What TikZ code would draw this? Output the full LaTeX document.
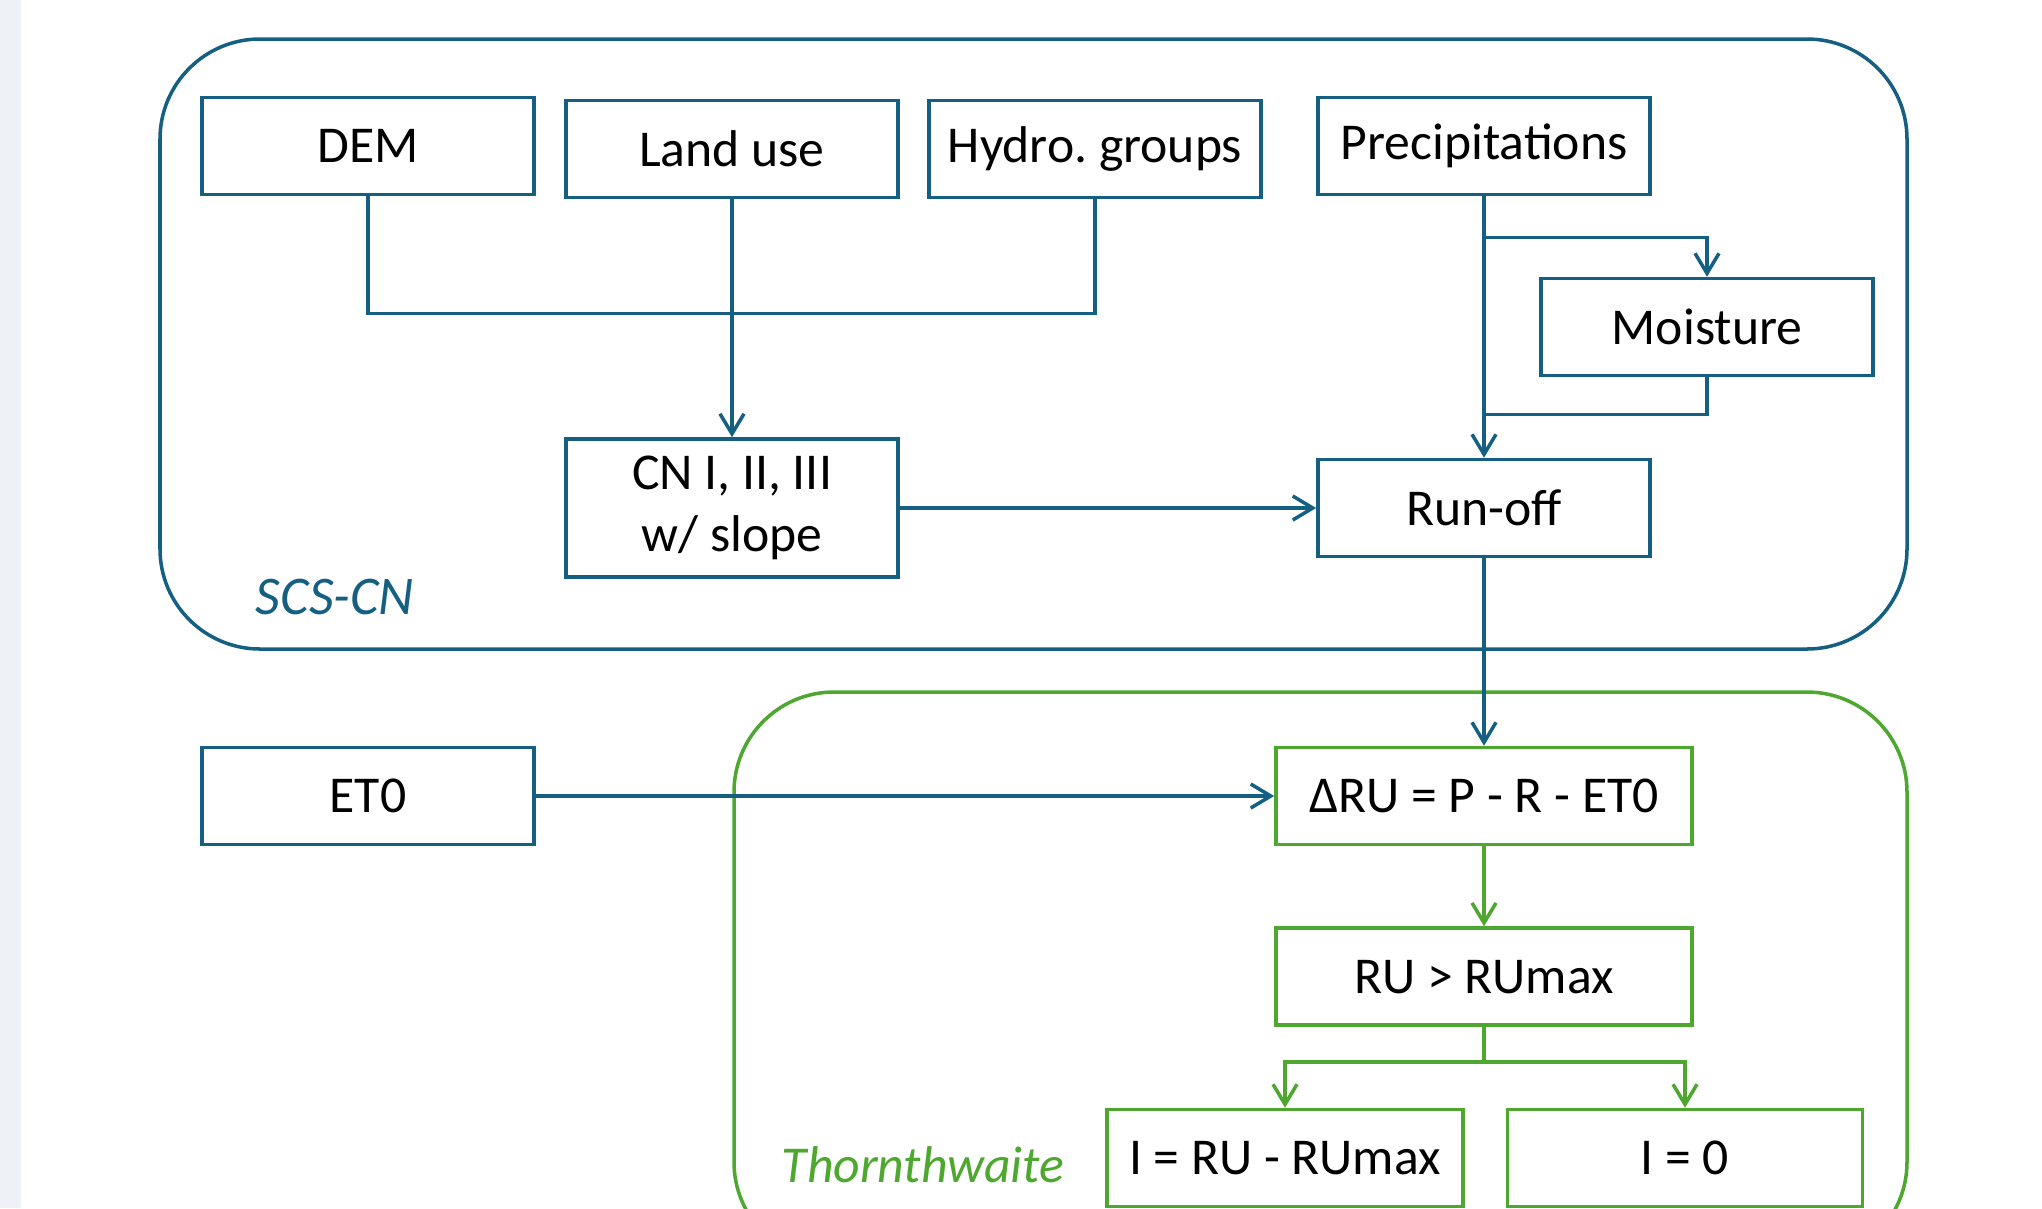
\documentclass[tikz,border=0pt]{standalone}
\usepackage{fontspec}
\setmainfont{Carlito}
\usetikzlibrary{arrows.meta,positioning}
\frenchspacing

\definecolor{scsblue}{HTML}{156082}
\definecolor{thgreen}{HTML}{4EA72E}
\definecolor{sidegray}{HTML}{EEF2F7}

\begin{document}
\begin{tikzpicture}[
    x=0.01cm, y=-0.01cm,
    font=\fontsize{14.7}{17.6}\selectfont,
    bbox/.style={draw=scsblue, line width=1pt, align=center, minimum width=3.32cm, minimum height=0.97cm, inner sep=2pt},
    gbox/.style={bbox, draw=thgreen, minimum width=4.16cm},
    link/.style={scsblue, line width=1pt},
    arr/.style={link, -{Straight Barb[length=2mm, width=2.4mm]}},
    glink/.style={thgreen, line width=1pt},
    garr/.style={glink, -{Straight Barb[length=2mm, width=2.4mm]}},
    frame/.style={line width=1pt, rounded corners=1cm}
]
\useasboundingbox (0,0) rectangle (2042,1208);
\clip (0,0) rectangle (2042,1208);
\fill[white] (0,0) rectangle (2042,1208);
\fill[sidegray] (0,0) rectangle (21,1208);

% the two model frames
\draw[frame, scsblue] (160,39) rectangle (1907,649);
\draw[frame, thgreen] (734,692) rectangle (1907,1262);
\node[font=\fontsize{15.5}{18}\selectfont\itshape, text=scsblue] (scs) at (335,597) {SCS-CN};
\node[font=\fontsize{14.7}{17.6}\selectfont\itshape, text=thgreen] (thw) at (923,1165) {Thornthwaite};

% SCS-CN inputs
\node[bbox] (dem) at (368,146) {DEM};
\node[bbox] (land) at (732,149) {Land use};
\node[bbox] (hydro) at (1095,149) {Hydro. groups};
\node[bbox] (prec) at (1484,146) {Precipitations};
\node[bbox] (moist) at (1707,327) {Moisture};
\node[bbox, minimum height=1.38cm] (cn) at (land.center |- 0,508) {CN I, II, III\\w/ slope};
\node[bbox] (runoff) at (prec.center |- cn.center) {Run-off};

% Thornthwaite balance
\node[bbox] (et0) at (368,796) {ET0};
\node[gbox] (dru) at (runoff.center |- et0.center) {ΔRU = P - R - ET0};
\node[gbox, below=0.80cm of dru] (rumax) {RU > RUmax};
\node[gbox, minimum width=3.56cm] (ione) at (1285,1158) {I = RU - RUmax};
\node[gbox, minimum width=3.55cm] (izero) at (1685,1158) {I = 0};

% connectors
\path (dem.south) ++(0,117) coordinate (join);
\draw[link] (dem.south) -- (join) -| (hydro.south);
\draw[arr] (land.south) -- (cn.north);
\path (prec.south) ++(0,41) coordinate (split);
\path (moist.south) ++(0,37) coordinate (merge);
\draw[arr] (prec.south) -- (runoff.north);
\draw[arr] (split) -| (moist.north);
\draw[link] (moist.south) |- (runoff.north |- merge);
\draw[arr] (cn.east) -- (runoff.west);
\draw[arr] (runoff.south) -- (dru.north);
\draw[arr] (et0.east) -- (dru.west);

\draw[garr] (dru.south) -- (rumax.north);
\path (rumax.south) ++(0,35) coordinate (fork);
\draw[glink] (rumax.south) -- (fork);
\draw[garr] (fork) -| (ione.north);
\draw[garr] (fork) -| (izero.north);
\end{tikzpicture}
\end{document}
